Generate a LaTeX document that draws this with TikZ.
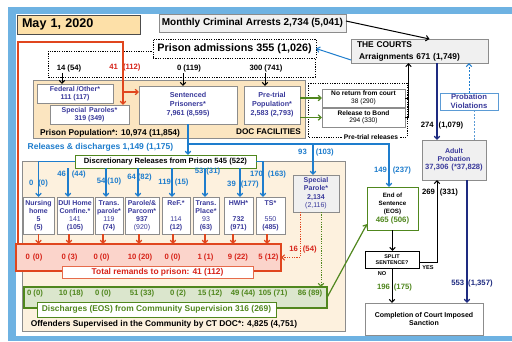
\documentclass[tikz,border=0pt]{standalone}
\usepackage{fontspec}
\setmainfont{Liberation Sans}
\usetikzlibrary{arrows.meta,calc}

\definecolor{framebl}{RGB}{110,178,226}
\definecolor{datefill}{RGB}{253,224,168}
\definecolor{docfill}{RGB}{251,229,192}
\definecolor{commfill}{RGB}{253,241,222}
\definecolor{boxgray}{RGB}{140,140,140}
\definecolor{lightgray}{RGB}{240,240,240}
\definecolor{txtblue}{RGB}{58,58,155}
\definecolor{linkblue}{RGB}{30,125,205}
\definecolor{violblue}{RGB}{91,155,213}
\definecolor{redln}{RGB}{224,70,30}
\definecolor{redtxt}{RGB}{215,35,25}
\definecolor{remfill}{RGB}{251,212,203}
\definecolor{greenln}{RGB}{80,135,30}
\definecolor{dischfill}{RGB}{219,230,205}
\definecolor{navy}{RGB}{30,43,128}

\newcommand\fz[2]{\fontsize{#1}{#2}\selectfont\bfseries}

\tikzset{
  box/.style={draw=boxgray, line width=0.8pt, fill=white, inner sep=0pt, outer sep=0pt,
    align=center, text=txtblue, font=\fz{7}{8}},
  graybox/.style={box, fill=lightgray},
  lbl/.style={inner sep=0pt, font=\fz{7.7}{9}},
  bluelbl/.style={lbl, text=linkblue},
  redlbl/.style={lbl, text=redtxt},
  greenlbl/.style={lbl, text=greenln},
  navylbl/.style={lbl, text=navy},
  arr/.style={-{Straight Barb[length=3pt,width=5.5pt]}, line width=1pt},
  bluearr/.style={arr, draw=linkblue, line width=1.2pt},
  redarr/.style={arr, draw=redln, line width=1.2pt},
  greenarr/.style={arr, draw=greenln, line width=1.2pt},
  navyarr/.style={arr, draw=navy, line width=1.2pt},
  dotline/.style={dash pattern=on 1.2pt off 1.2pt, line width=0.8pt},
}

\begin{document}
\begin{tikzpicture}[x=1pt, y=-1pt]
%%%%% FRAME %%%%%
\useasboundingbox (0,0) rectangle (512,341);
\fill[framebl] (8,7) rectangle (512,341);
\fill[white] (16,14) rectangle (512,336);

%%%%% AREAS %%%%%
\draw[boxgray, line width=1pt, fill=commfill] (22,161) rectangle (345,331);
\draw[boxgray, line width=1pt, fill=docfill] (33,80) rectangle (305,138);
\draw[dotline] (48,51) rectangle (315,77);
\draw[dotline] (308,83) rectangle (407,137);

%%%%% TOP %%%%%
\node[box, fill=datefill, draw=black!70, text=black, font=\fz{12.6}{14}, minimum height=19,
  text width=113pt, inner xsep=5pt, align=left] (date) at (78.5,24.5) {May 1, 2020};
\node[graybox, text=black, font=\fz{10}{12}, minimum width=187, minimum height=18] (arrests) at (252.5,23) {Monthly Criminal Arrests 2,734 (5,041)};
\node[box, draw=black, dotline, text=black, font=\fz{10.8}{12}, minimum width=163, minimum height=19] (admissions) at (234.5,48.5) {Prison admissions 355 (1,026)};
\node[graybox, text=black, font=\fz{8.4}{12}, minimum height=24, text width=125pt, inner xsep=6pt,
  align=left] (courts) at (419.5,51) {THE COURTS\\\hspace{2pt}Arraignments 671 (1,749)};

\node[lbl] (l14) at (69,69) {14 (54)};
\node[redlbl] (l41) at (125,68) {41\hspace{5pt}(112)};
\node[lbl] (l0) at (189,69) {0 (119)};
\node[lbl] (l300) at (266,69) {300 (741)};

%%%%% DOC FACILITIES %%%%%
\node[box, minimum width=76, minimum height=19] (federal) at (75,93.5) {Federal /Other*\\111 (117)};
\node[box, minimum width=79, minimum height=19] (specpar) at (89.5,114.5) {Special\hspace{3pt}Paroles*\\319 (349)};
\node[box, font=\fz{7.2}{8.5}, minimum width=98, minimum height=38] (sentenced) at (188,105) {Sentenced\\Prisoners*\\[1pt]7,961 (8,595)};
\node[box, font=\fz{7.2}{8.5}, minimum width=56, minimum height=38] (pretrial) at (272,105) {Pre-trial\\Population*\\[1pt]2,583 (2,793)};
\node[lbl, font=\fz{8.4}{10}] (prisonpop) at (110,133) {Prison Population*: 10,974 (11,854)};
\node[lbl, font=\fz{8.2}{10}] (docfac) at (268.5,132) {DOC FACILITIES};

\node[box, text=black, font=\fz{6.6}{7.5}, minimum width=83, minimum height=18] (noreturn) at (363.5,98) {No return from court\\{\mdseries 38 (290)}};
\node[box, text=black, font=\fz{6.6}{7.5}, minimum width=83, minimum height=19] (bond) at (363.5,117.5) {Release to Bond\\{\mdseries 294 (330)}};
\node[lbl, font=\fz{6.7}{8}, fill=white, inner xsep=2pt] (ptrel) at (371,137) {Pre-trial releases};

%%%%% COURTS SIDE %%%%%
\node[box, draw=violblue, text=txtblue, font=\fz{7.7}{9}, minimum width=58, minimum height=17] (proviol) at (469,101.5) {Probation\\Violations};
\node[graybox, text=txtblue, font=\fz{7}{8}, minimum width=64, minimum height=40] (adultprob) at (454,160) {Adult\\Probation\\{\fontsize{7.6}{8}\selectfont 37,306\hspace{3pt}(*37,828)}};
\node[lbl] (l274) at (442,126) {274\hspace{5pt}(1,079)};
\node[lbl] (l269) at (440,193) {269\hspace{5pt}(331)};
\node[navylbl] (l553) at (472,284) {553\hspace{4pt}(1,357)};

\node[box, draw=greenln, text=black, font=\fz{6.2}{8}, minimum width=51, minimum height=43] (eos) at (392.5,208.5) {End of\\Sentence\\(EOS)\\[1pt]{\color{greenln}\fontsize{7.8}{9}\selectfont 465 (506)}};
\node[box, draw=black, text=black, font=\fz{5.4}{6.5}, minimum width=54, minimum height=17] (split) at (392,259.5) {SPLIT\\SENTENCE?};
\node[lbl, font=\fz{5.6}{7}] (yes) at (428,268) {YES};
\node[lbl, font=\fz{5.6}{7}] (no) at (382,274) {NO};
\node[greenlbl] (l196) at (394.5,288) {196\hspace{4pt}(175)};
\node[box, text=black, font=\fz{7}{8.5}, minimum width=118, minimum height=32] (completion) at (424,319) {Completion of Court Imposed\\Sanction};

%%%%% RELEASES %%%%%
\node[lbl, text=linkblue, font=\fz{8.5}{10}] (releases) at (100.5,147) {Releases \& discharges 1,149 (1,175)};
\node[box, draw=greenln, line width=1pt, text=black, font=\fz{7.6}{9}, minimum width=181, minimum height=13] (discret) at (165.5,161.5) {Discretionary Releases from Prison 545 (522)};
\node[bluelbl] (l93) at (316,153) {93\hspace{9pt}(103)};
\node[bluelbl] (l149) at (392.5,171) {149\hspace{6pt}(237)};

\node[box, minimum width=31, minimum height=37] (nursing) at (38.5,215.5) {Nursing\\home\\5\\(5)};
\node[box, minimum width=36, minimum height=37] (dui) at (75,215.5) {DUI Home\\Confine.*\\\mdseries 141\\(105)};
\node[box, minimum width=28, minimum height=37] (transpar) at (109,215.5) {Trans.\\parole*\\\mdseries 119\\(74)};
\node[box, minimum width=34, minimum height=37] (parcom) at (142,215.5) {Parole/\&\\Parcom*\\937\\\mdseries (920)};
\node[box, minimum width=28, minimum height=37] (ref) at (176,215.5) {ReF.*\\ \\\mdseries 114\\(12)};
\node[box, minimum width=26, minimum height=37] (transpl) at (206,215.5) {Trans.\\Place*\\\mdseries 93\\(63)};
\node[box, minimum width=29, minimum height=37] (hwh) at (238.5,215.5) {HWH*\\ \\732\\(971)};
\node[box, minimum width=29, minimum height=37] (ts) at (270.5,215.5) {TS*\\ \\\mdseries 550\\(485)};
\node[graybox, minimum width=46, minimum height=37] (specialparole) at (316,193.5) {Special\\Parole*\\[1pt]2,134\\\mdseries (2,116)};

\node[bluelbl] (b1) at (38.5,184) {0\hspace{5pt}(0)};
\node[bluelbl] (b2) at (71.5,175) {46\hspace{6pt}(44)};
\node[bluelbl] (b3) at (109,182) {54\hspace{2pt}(10)};
\node[bluelbl] (b4) at (139.5,178) {64\hspace{2pt}(82)};
\node[bluelbl] (b5) at (173.5,183) {119\hspace{4pt}(15)};
\node[bluelbl] (b6) at (207.5,172) {53\hspace{3pt}(31)};
\node[bluelbl] (b7) at (243,185) {39\hspace{5pt}(177)};
\node[bluelbl] (b8) at (268,175) {170\hspace{5pt}(163)};

%%%%% REMANDS %%%%%
\node[box, draw=redln, fill=remfill, line width=1.2pt, minimum width=265, minimum height=27] (remrow) at (148.5,257.5) {};
\node[box, draw=redln!80, line width=1pt, text=redtxt, font=\fz{8.4}{10}, minimum width=191, minimum height=12] (totalrem) at (157.5,272) {Total remands to prison: 41 (112)};
\node[redlbl] (r1) at (34,258) {0\hspace{3pt}(0)};
\node[redlbl] (r2) at (69.5,258) {0 (3)};
\node[redlbl] (r3) at (101.5,258) {0 (0)};
\node[redlbl] (r4) at (140,258) {10 (20)};
\node[redlbl] (r5) at (172.5,258) {0 (0)};
\node[redlbl] (r6) at (205.5,258) {1 (1)};
\node[redlbl] (r7) at (238,258) {9 (22)};
\node[redlbl] (r8) at (268.5,258) {5 (12)};
\node[redlbl] (l16) at (303,250) {16\hspace{5pt}(54)};

%%%%% DISCHARGES %%%%%
\node[box, draw=greenln, fill=dischfill, line width=1.2pt, minimum width=303, minimum height=21] (dischrow) at (175.5,297.5) {};
\node[box, draw=greenln, line width=1pt, text=greenln, font=\fz{8.4}{10}, minimum width=239, minimum height=15] (dischlbl) at (156.5,309.5) {Discharges (EOS) from Community Supervision 316 (269)};
\node[greenlbl] (g1) at (35,294) {0 (0)};
\node[greenlbl] (g2) at (71,294) {10 (18)};
\node[greenlbl] (g3) at (103,294) {0 (0)};
\node[greenlbl] (g4) at (142,294) {51 (33)};
\node[greenlbl] (g5) at (178,294) {0 (2)};
\node[greenlbl] (g6) at (210,294) {15 (12)};
\node[greenlbl] (g7) at (243,294) {49 (44)};
\node[greenlbl] (g8) at (273,294) {105 (71)};
\node[greenlbl] (g9) at (310,294) {86 (89)};
\node[lbl, font=\fz{8.4}{10}] (offenders) at (164,324) {Offenders Supervised in the Community by CT DOC*: 4,825 (4,751)};

%%%%% CONNECTORS %%%%%
\draw[arr] ([yshift=2]arrests.east) -- ([xshift=10]courts.north);
\draw[bluearr, line width=1pt] ([yshift=-9]courts.west) -- (admissions.east);

\coordinate (fedin) at ([xshift=-13]federal.north);
\draw[arr] (fedin |- l14.south) -- (fedin);
\coordinate (senin) at ([xshift=-5]sentenced.north);
\draw[arr] (senin |- l0.south) -- (senin);
\coordinate (prein) at ([xshift=-7]pretrial.north);
\draw[arr] (prein |- l300.south) -- (prein);

\coordinate (rtop) at (123,42);
\draw[redarr] ([xshift=2]remrow.north west) |- (rtop) -- (rtop |- specpar.north);
\coordinate (sentin) at ([yshift=13]sentenced.west);
\draw[redarr] (sentin -| rtop) -- (sentin);

\draw[greenarr] (pretrial.east |- noreturn.west) -- (noreturn.west);
\draw[greenarr] (pretrial.east |- bond.west) -- (bond.west);
\coordinate (cin) at ([xshift=-11]courts.south);
\draw[line width=1pt] (noreturn.east) -- (noreturn.east -| cin);
\draw[arr] (bond.east) -| (cin);

\coordinate (cout) at ([xshift=17.5]courts.south);
\draw[navyarr] (cout) -- (cout |- adultprob.north);
\draw[bluearr, line width=1pt, dash pattern=on 2pt off 1.5pt] (proviol.north) -- (proviol.north |- courts.south);
\coordinate (pvl) at ([xshift=5]proviol.south);
\draw[violblue, line width=1pt, dash pattern=on 2pt off 1.5pt] (pvl |- adultprob.north) -- (pvl);
\coordinate (apout) at ([xshift=13]adultprob.south);
\draw[navyarr] (apout) -- (apout |- completion.north);

\draw[arr] (eos.south) -- (eos.south |- split.north);
\draw[arr] (split.south) -- (split.south |- completion.north);
\draw[arr] ([yshift=-2.5]split.east) -| ([xshift=-17]adultprob.south);
\draw[greenarr] (dischrow.east) -- ([yshift=-15.5]eos.west);

\draw[bluearr] (sentenced.south) -- (sentenced.south |- discret.north);
\coordinate (relj) at ($(sentenced.south)+(0,20)$);
\coordinate (eosin) at ([xshift=-3.5]eos.north);
\draw[bluearr] (relj) -| (eosin);
\coordinate (spin) at ([xshift=-3]specialparole.north);
\draw[bluearr] (spin |- relj) -- (spin);

\draw[bluearr] (discret.west) -| (nursing.north);
\foreach \b/\dx in {dui/-7, transpar/-3, parcom/-4, ref/-4, transpl/-1, hwh/1.5}{
  \coordinate (in\b) at ([xshift=\dx]\b.north);
  \draw[bluearr] (in\b |- discret.south) -- (in\b);
}
\coordinate (ints) at ([xshift=-7.5]ts.north);
\draw[bluearr] (discret.east) -| (ints);

\foreach \b/\dx in {nursing/0, dui/-6, transpar/-6, parcom/-3, ref/-3, transpl/-1, hwh/-5.5, ts/-3.5}{
  \coordinate (out\b) at ([xshift=\dx]\b.south);
  \draw[redarr] (out\b) -- (out\b |- remrow.north);
}

\coordinate (spr) at ([xshift=-16]specialparole.south);
\draw[redarr, line width=1pt, dash pattern=on 1.2pt off 1.2pt] (spr) |- (remrow.east);
\coordinate (spg) at ([xshift=5]specialparole.south);
\draw[greenarr, line width=1pt, dash pattern=on 1.2pt off 1.2pt] (spg) -- (spg |- dischrow.north);
\end{tikzpicture}
\end{document}
